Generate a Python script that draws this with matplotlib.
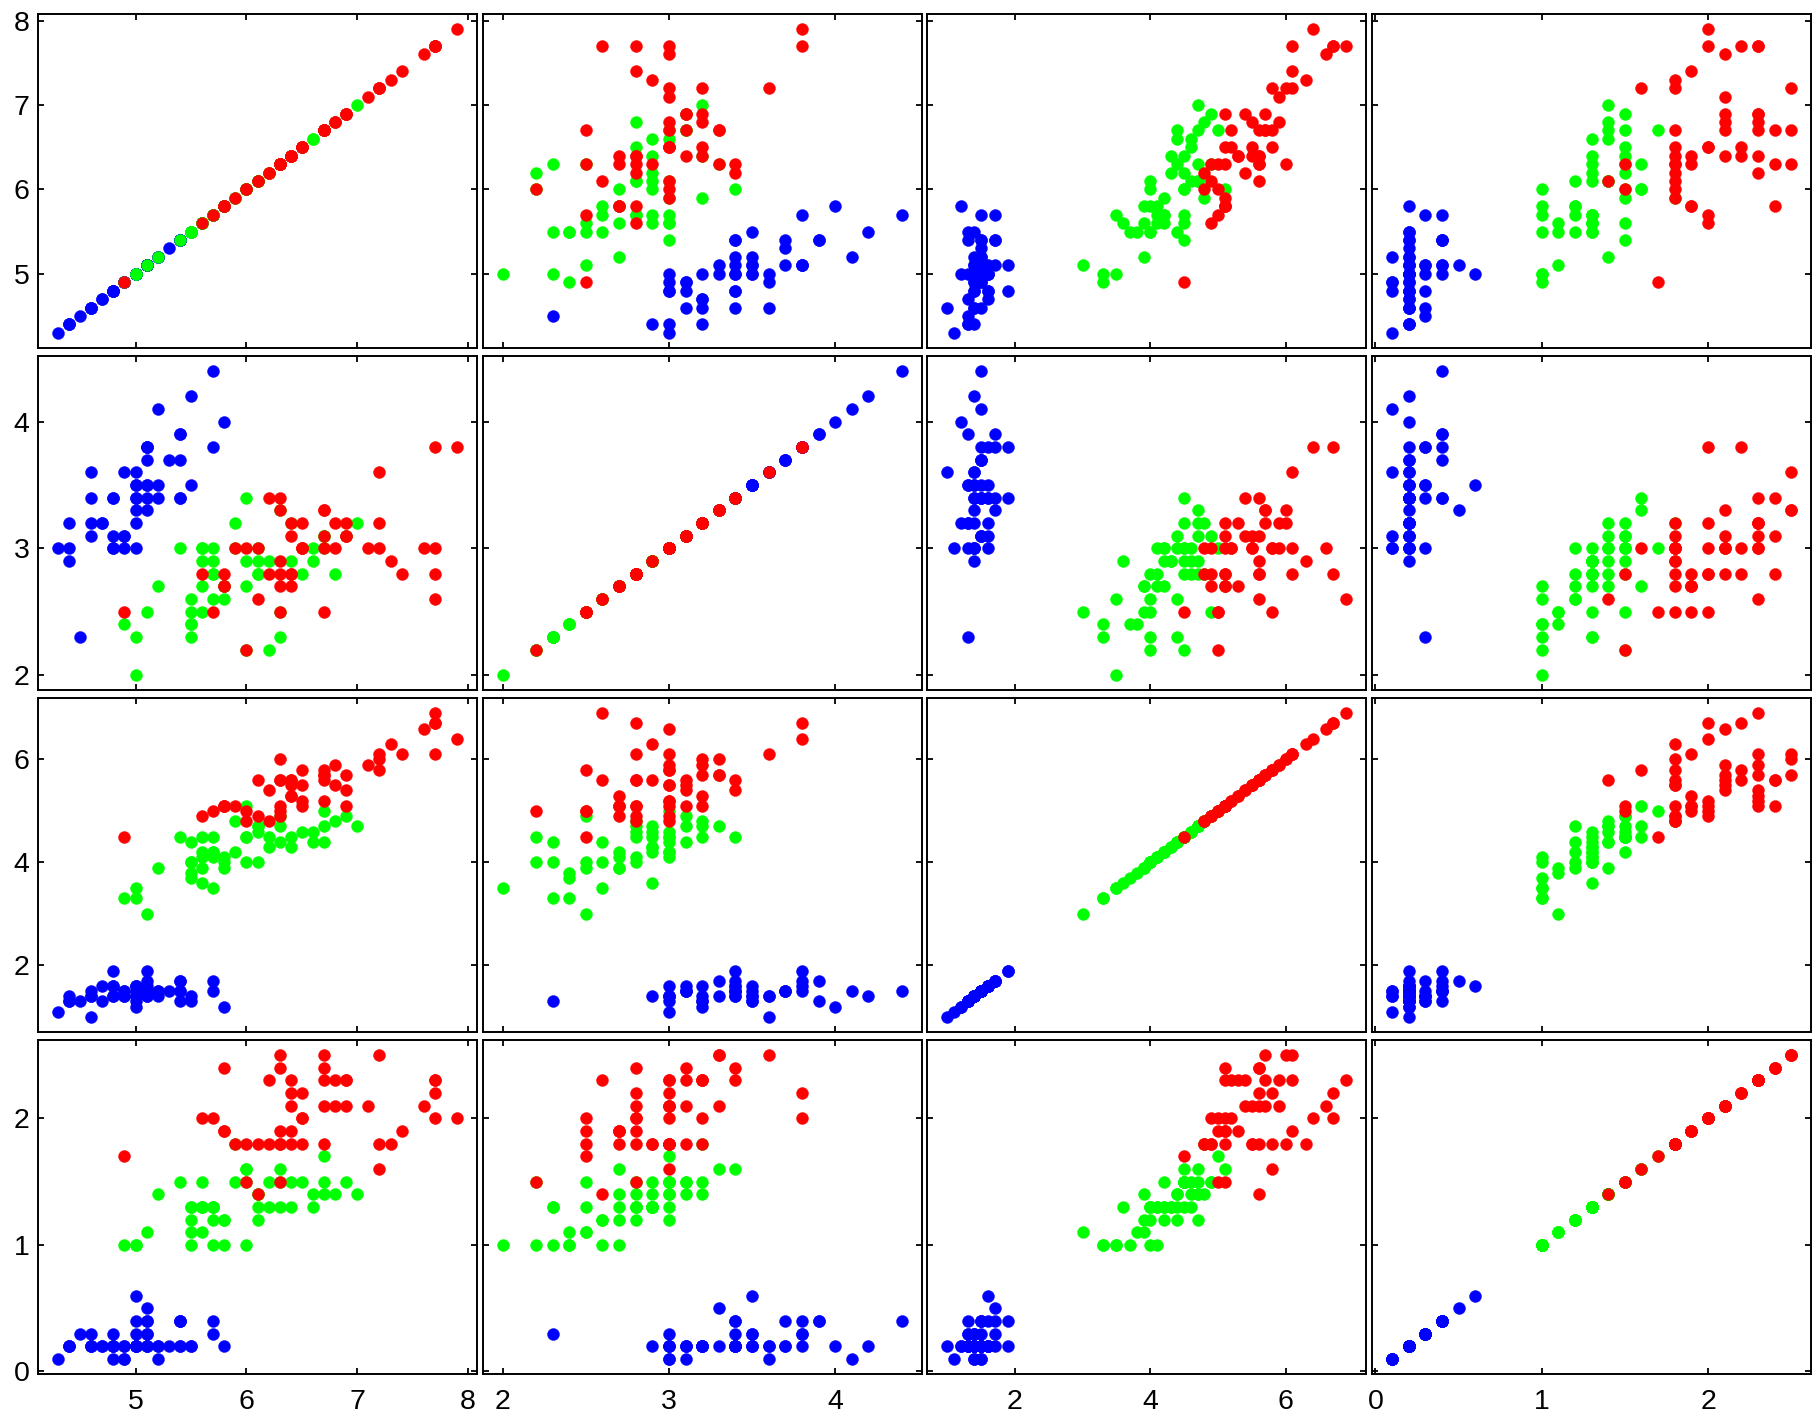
import numpy as np
import matplotlib.pyplot as plt

# Fisher iris measurements, rows 1-50 setosa, 51-100 versicolor, 101-150 virginica
sepal_length = [
    5.1, 4.9, 4.7, 4.6, 5.0, 5.4, 4.6, 5.0, 4.4, 4.9, 5.4, 4.8, 4.8, 4.3, 5.8, 5.7, 5.4, 5.1, 5.7, 5.1,
    5.4, 5.1, 4.6, 5.1, 4.8, 5.0, 5.0, 5.2, 5.2, 4.7, 4.8, 5.4, 5.2, 5.5, 4.9, 5.0, 5.5, 4.9, 4.4, 5.1,
    5.0, 4.5, 4.4, 5.0, 5.1, 4.8, 5.1, 4.6, 5.3, 5.0,
    7.0, 6.4, 6.9, 5.5, 6.5, 5.7, 6.3, 4.9, 6.6, 5.2, 5.0, 5.9, 6.0, 6.1, 5.6, 6.7, 5.6, 5.8, 6.2, 5.6,
    5.9, 6.1, 6.3, 6.1, 6.4, 6.6, 6.8, 6.7, 6.0, 5.7, 5.5, 5.5, 5.8, 6.0, 5.4, 6.0, 6.7, 6.3, 5.6, 5.5,
    5.5, 6.1, 5.8, 5.0, 5.6, 5.7, 5.7, 6.2, 5.1, 5.7,
    6.3, 5.8, 7.1, 6.3, 6.5, 7.6, 4.9, 7.3, 6.7, 7.2, 6.5, 6.4, 6.8, 5.7, 5.8, 6.4, 6.5, 7.7, 7.7, 6.0,
    6.9, 5.6, 7.7, 6.3, 6.7, 7.2, 6.2, 6.1, 6.4, 7.2, 7.4, 7.9, 6.4, 6.3, 6.1, 7.7, 6.3, 6.4, 6.0, 6.9,
    6.7, 6.9, 5.8, 6.8, 6.7, 6.7, 6.3, 6.5, 6.2, 5.9]
sepal_width = [
    3.5, 3.0, 3.2, 3.1, 3.6, 3.9, 3.4, 3.4, 2.9, 3.1, 3.7, 3.4, 3.0, 3.0, 4.0, 4.4, 3.9, 3.5, 3.8, 3.8,
    3.4, 3.7, 3.6, 3.3, 3.4, 3.0, 3.4, 3.5, 3.4, 3.2, 3.1, 3.4, 4.1, 4.2, 3.1, 3.2, 3.5, 3.6, 3.0, 3.4,
    3.5, 2.3, 3.2, 3.5, 3.8, 3.0, 3.8, 3.2, 3.7, 3.3,
    3.2, 3.2, 3.1, 2.3, 2.8, 2.8, 3.3, 2.4, 2.9, 2.7, 2.0, 3.0, 2.2, 2.9, 2.9, 3.1, 3.0, 2.7, 2.2, 2.5,
    3.2, 2.8, 2.5, 2.8, 2.9, 3.0, 2.8, 3.0, 2.9, 2.6, 2.4, 2.4, 2.7, 2.7, 3.0, 3.4, 3.1, 2.3, 3.0, 2.5,
    2.6, 3.0, 2.6, 2.3, 2.7, 3.0, 2.9, 2.9, 2.5, 2.8,
    3.3, 2.7, 3.0, 2.9, 3.0, 3.0, 2.5, 2.9, 2.5, 3.6, 3.2, 2.7, 3.0, 2.5, 2.8, 3.2, 3.0, 3.8, 2.6, 2.2,
    3.2, 2.8, 2.8, 2.7, 3.3, 3.2, 2.8, 3.0, 2.8, 3.0, 2.8, 3.8, 2.8, 2.8, 2.6, 3.0, 3.4, 3.1, 3.0, 3.1,
    3.1, 3.1, 2.7, 3.2, 3.3, 3.0, 2.5, 3.0, 3.4, 3.0]
petal_length = [
    1.4, 1.4, 1.3, 1.5, 1.4, 1.7, 1.4, 1.5, 1.4, 1.5, 1.5, 1.6, 1.4, 1.1, 1.2, 1.5, 1.3, 1.4, 1.7, 1.5,
    1.7, 1.5, 1.0, 1.7, 1.9, 1.6, 1.6, 1.5, 1.4, 1.6, 1.6, 1.5, 1.5, 1.4, 1.5, 1.2, 1.3, 1.4, 1.3, 1.5,
    1.3, 1.3, 1.3, 1.6, 1.9, 1.4, 1.6, 1.4, 1.5, 1.4,
    4.7, 4.5, 4.9, 4.0, 4.6, 4.5, 4.7, 3.3, 4.6, 3.9, 3.5, 4.2, 4.0, 4.7, 3.6, 4.4, 4.5, 4.1, 4.5, 3.9,
    4.8, 4.0, 4.9, 4.7, 4.3, 4.4, 4.8, 5.0, 4.5, 3.5, 3.8, 3.7, 3.9, 5.1, 4.5, 4.5, 4.7, 4.4, 4.1, 4.0,
    4.4, 4.6, 4.0, 3.3, 4.2, 4.2, 4.2, 4.3, 3.0, 4.1,
    6.0, 5.1, 5.9, 5.6, 5.8, 6.6, 4.5, 6.3, 5.8, 6.1, 5.1, 5.3, 5.5, 5.0, 5.1, 5.3, 5.5, 6.7, 6.9, 5.0,
    5.7, 4.9, 6.7, 4.9, 5.7, 6.0, 4.8, 4.9, 5.6, 5.8, 6.1, 6.4, 5.6, 5.1, 5.6, 6.1, 5.6, 5.5, 4.8, 5.4,
    5.6, 5.1, 5.1, 5.9, 5.7, 5.2, 5.0, 5.2, 5.4, 5.1]
petal_width = [
    0.2, 0.2, 0.2, 0.2, 0.2, 0.4, 0.3, 0.2, 0.2, 0.1, 0.2, 0.2, 0.1, 0.1, 0.2, 0.4, 0.4, 0.3, 0.3, 0.3,
    0.2, 0.4, 0.2, 0.5, 0.2, 0.2, 0.4, 0.2, 0.2, 0.2, 0.2, 0.4, 0.1, 0.2, 0.2, 0.2, 0.2, 0.1, 0.2, 0.2,
    0.3, 0.3, 0.2, 0.6, 0.4, 0.3, 0.2, 0.2, 0.2, 0.2,
    1.4, 1.5, 1.5, 1.3, 1.5, 1.3, 1.6, 1.0, 1.3, 1.4, 1.0, 1.5, 1.0, 1.4, 1.3, 1.4, 1.5, 1.0, 1.5, 1.1,
    1.8, 1.3, 1.5, 1.2, 1.3, 1.4, 1.4, 1.7, 1.5, 1.0, 1.1, 1.0, 1.2, 1.6, 1.5, 1.6, 1.5, 1.3, 1.3, 1.3,
    1.2, 1.4, 1.2, 1.0, 1.3, 1.2, 1.3, 1.3, 1.1, 1.3,
    2.5, 1.9, 2.1, 1.8, 2.2, 2.1, 1.7, 1.8, 1.8, 2.5, 2.0, 1.9, 2.1, 2.0, 2.4, 2.3, 1.8, 2.2, 2.3, 1.5,
    2.3, 2.0, 2.0, 1.8, 2.1, 1.8, 1.8, 1.8, 2.1, 1.6, 1.9, 2.0, 2.2, 1.5, 1.4, 2.3, 2.4, 1.8, 1.8, 2.1,
    2.4, 2.3, 1.9, 2.3, 2.5, 2.3, 1.9, 2.0, 2.3, 1.8]

species = ['setosa'] * 50 + ['versicolor'] * 50 + ['virginica'] * 50
species_names = ['setosa', 'versicolor', 'virginica']
species_colors = ['#0000ff', '#00ff00', '#ff0000']   # matlab 'b', 'g', 'r'

var_ticks = [[5, 6, 7, 8], [2, 3, 4], [2, 4, 6], [0, 1, 2]]

X = np.array([sepal_length, sepal_width, petal_length, petal_width]).T
grp = np.array(species)
nvar = X.shape[1]

plt.rcParams['font.family'] = ['Liberation Sans', 'DejaVu Sans']

W, H = 1814, 1418
fig = plt.figure(figsize=(W / 100, H / 100), dpi=100)

# panel geometry in pixels
left0, top0 = 38, 14
pw, ph = 439, 334
stepx, stepy = 444.7, 342

for i in range(nvar):        # rows -> y variable
    for j in range(nvar):    # cols -> x variable
        l = left0 + j * stepx
        t = top0 + i * stepy
        ax = fig.add_axes([l / W, 1 - (t + ph) / H, pw / W, ph / H])
        for name, col in zip(species_names, species_colors):
            m = grp == name
            ax.plot(X[m, j], X[m, i], 'o', color=col, ms=8.6, mec=col, mew=0.3)

        # matlab style limits: data range padded by 5%
        xr = X[:, j].max() - X[:, j].min()
        yr = X[:, i].max() - X[:, i].min()
        ax.set_xlim(X[:, j].min() - 0.05 * xr, X[:, j].max() + 0.05 * xr)
        ax.set_ylim(X[:, i].min() - 0.05 * yr, X[:, i].max() + 0.05 * yr)
        ax.set_xticks(var_ticks[j])
        ax.set_yticks(var_ticks[i])

        ax.tick_params(direction='in', length=4, width=1.3, top=True, right=True,
                       labelsize=20.5)
        ax.tick_params(axis='x', pad=11)
        ax.tick_params(axis='y', pad=6)
        ax.tick_params(labelbottom=(i == nvar - 1), labelleft=(j == 0))
        for s in ax.spines.values():
            s.set_linewidth(1.4)

fig.savefig('out.png', dpi=100)
